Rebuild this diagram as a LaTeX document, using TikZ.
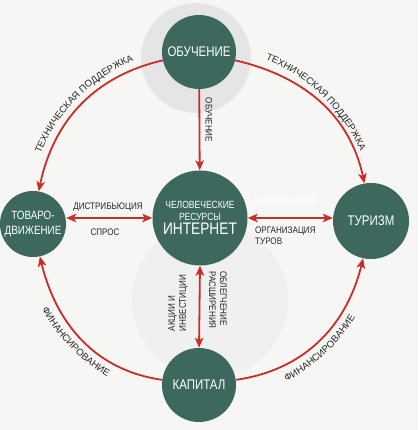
\documentclass[tikz,border=0pt]{standalone}
\usepackage{fontspec}
\setmainfont{Liberation Sans}[FakeStretch=0.85]
\newfontfamily\nodefont{Liberation Sans}[FakeStretch=0.82]
\newfontfamily\arcfont{Liberation Sans}
\usetikzlibrary{arrows.meta,bending,decorations.text,calc}
\definecolor{nodegreen}{RGB}{60,104,94}
\definecolor{arrred}{RGB}{205,44,38}
\definecolor{labelgrey}{RGB}{38,38,38}
\definecolor{bgcol}{RGB}{246,246,245}
\begin{document}
\begin{tikzpicture}[x=1pt,y=1pt,
  hub/.style={circle, fill=nodegreen, text=white, inner sep=0pt, minimum size=#1, align=center, font=\nodefont\fontsize{14}{15}\selectfont},
  conn/.style={draw=arrred, line width=1.8pt},
  tipend/.style={-{Stealth[length=10pt,width=8.5pt,inset=2.5pt,flex]}},
  tipboth/.style={{Stealth[length=10pt,width=8.5pt,inset=2.5pt]}-{Stealth[length=10pt,width=8.5pt,inset=2.5pt]}},
  lbl/.style={text=labelgrey, inner sep=0pt, align=left, font=\fontsize{9.5}{11}\selectfont},
  arclbl/.style={decorate, decoration={text along path, text align=center, text={|\color{labelgrey}\arcfont\fontsize{9.6}{12}\selectfont|#1}}}
]
\useasboundingbox (0,0) rectangle (418,430);
\fill[bgcol] (0,0) rectangle (418,430);

% faint background shapes
\fill[black!6] (210,130) circle[radius=78];
\fill[black!10] (196,372) circle[radius=55];

\coordinate (C) at (201,209);

% nodes
\node[hub=74] (obuch) at (199,378) {ОБУЧЕНИЕ};
\node[hub=66, font=\nodefont\fontsize{12}{14.5}\selectfont] (tovar) at (33,206) {ТОВАРО-\\ДВИЖЕНИЕ};
\node[hub=76] (turizm) at (371,209) {ТУРИЗМ};
\node[hub=74] (kapital) at (199,45) {КАПИТАЛ};
\node[hub=95, font=\nodefont\fontsize{10.4}{11.5}\selectfont] (inet) at (200,212)
  {ЧЕЛОВЕЧЕСКИЕ\\РЕСУРСЫ\\[2pt]{\fontsize{16.7}{17}\selectfont ИНТЕРНЕТ}};

% arcs
\draw[conn,tipend] (obuch) to[out=193,in=80] (tovar);
\draw[conn,tipend] (obuch) to[out=-13,in=100] (turizm);
\draw[conn,tipend] (kapital) to[out=172,in=-78] (tovar);
\draw[conn,tipend] (kapital) to[out=8,in=-102] (turizm);

% straight connectors
\draw[conn,tipend] (obuch) -- (inet);
\draw[conn,tipboth] (inet.west) -- (inet.west -| tovar.east);
\draw[conn,tipboth] (inet.east) -- (inet.east -| turizm.west);
\draw[conn,tipboth] (inet.south) -- (kapital.north);

% arc labels
\path[arclbl={ТЕХНИЧЕСКАЯ ПОДДЕРЖКА}] ($(C)+(165:174)$) arc[start angle=165,end angle=105,radius=174];
\path[arclbl={ТЕХНИЧЕСКАЯ ПОДДЕРЖКА}] ($(C)+(76:174)$) arc[start angle=76,end angle=16,radius=174];
\path[arclbl={ФИНАНСИРОВАНИЕ}] ($(C)+(194:182)$) arc[start angle=194,end angle=254,radius=182];
\path[arclbl={ФИНАНСИРОВАНИЕ}] ($(C)+(-77:182)$) arc[start angle=-77,end angle=-17,radius=182];

% straight labels
\node[lbl, rotate=-90] (l1) at (209,310) {ОБУЧЕНИЕ};
\node[lbl] (l2) at (108,223) {ДИСТРИБЬЮЦИЯ};
\node[lbl] (l3) at (105,198) {СПРОС};
\node[lbl, text=white, font=\bfseries\fontsize{9.5}{11}\selectfont] (l4) at (285,229) {ОБЕСПЕЧЕНИЕ};
\node[lbl, anchor=north west] (l5) at (255,203) {ОРГАНИЗАЦИЯ\\ТУРОВ};
\node[lbl, rotate=90, align=left] (l6) at (178,127) {АКЦИИ И\\ИНВЕСТИЦИИ};
\node[lbl, rotate=-90, align=left] (l7) at (218,130) {ОБЛЕГЧЕНИЕ\\РАСШИРЕНИЯ};
\end{tikzpicture}
\end{document}
